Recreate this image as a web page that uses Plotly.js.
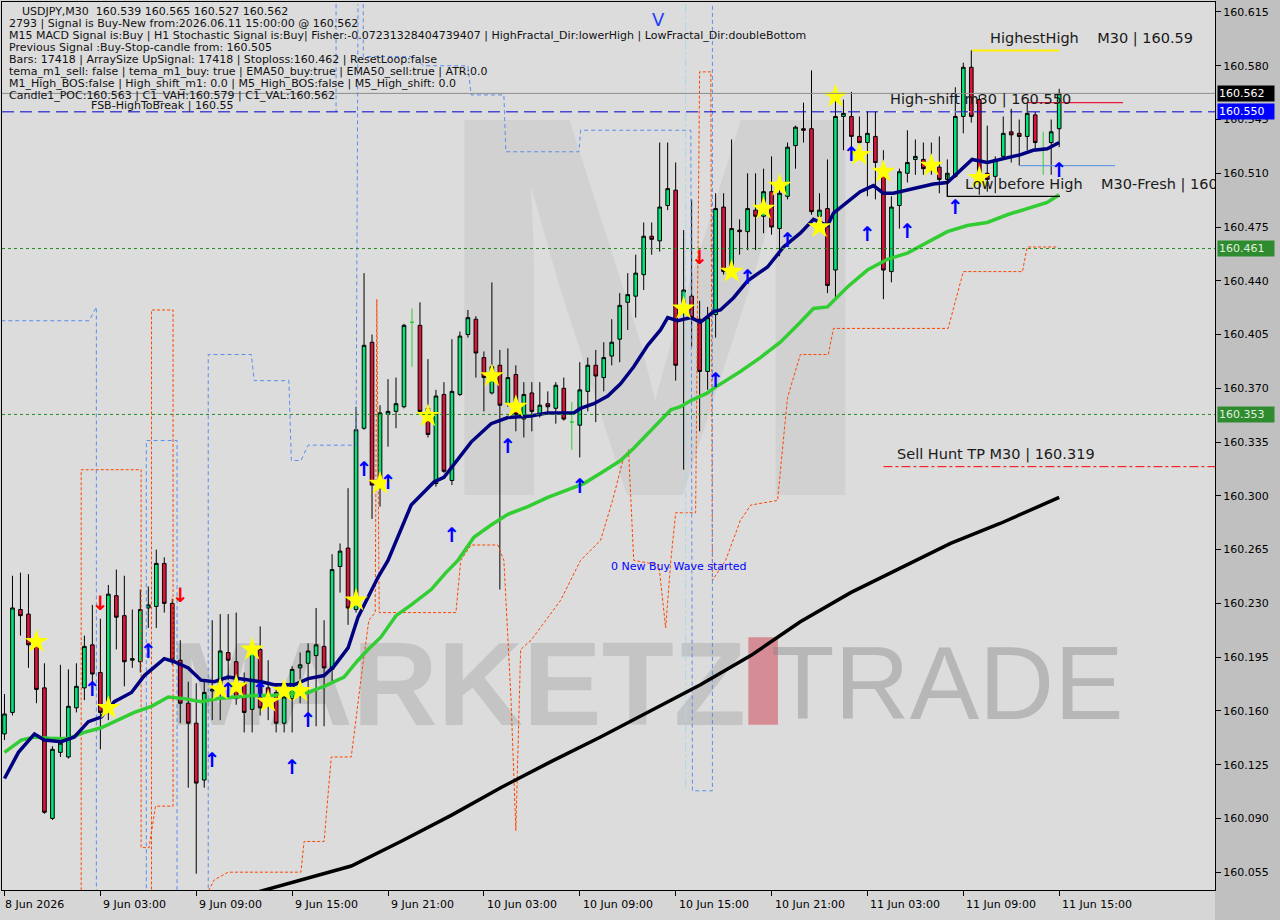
<!DOCTYPE html>
<html><head><meta charset="utf-8">
<script src="https://cdn.plot.ly/plotly-3.0.1.min.js"></script>
<style>html,body{margin:0;padding:0;background:#d6d6d6;}#chart{width:1280px;height:920px;}</style>
</head><body><div id="chart"></div>
<script>
// ---------- DATA ----------
const open = [160.145,160.159,160.226,160.223,160.203,160.175,160.090,160.133,160.130,160.162,160.175,160.203,160.185,160.163,160.235,160.222,160.193,160.192,160.227,160.228,
160.256,160.230,160.193,160.165,160.152,160.115,160.173,160.174,160.198,160.192,160.178,160.161,160.200,160.175,160.172,160.152,160.168,160.188,160.191,160.196,
160.202,160.187,160.254,160.266,160.226,160.344,160.400,160.307,160.353,160.355,160.358,160.413,160.411,160.357,160.308,160.366,160.310,160.366,160.405,160.415,
160.390,160.367,160.385,160.360,160.379,160.350,160.367,160.353,160.360,160.357,160.370,160.348,160.346,160.368,160.385,160.377,160.391,160.402,160.426,160.430,
160.444,160.469,160.466,160.489,160.499,160.421,160.430,160.415,160.381,160.418,160.488,160.448,160.473,160.472,160.486,160.482,160.498,160.474,160.495,160.528,
160.539,160.539,160.482,160.487,160.447,160.547,160.547,160.534,160.530,160.534,160.514,160.446,160.489,160.510,160.519,160.519,160.515,160.514,160.506,160.508,
160.547,160.579,160.558,160.510,160.508,160.521,160.537,160.536,160.534,160.548,160.526,160.530,160.539];
const high = [160.171,160.248,160.250,160.249,160.209,160.191,160.137,160.190,160.187,160.191,160.209,160.229,160.220,160.242,160.252,160.248,160.226,160.239,160.241,160.265,
160.260,160.233,160.206,160.179,160.178,160.180,160.219,160.223,160.223,160.224,160.185,160.205,160.215,160.193,160.178,160.178,160.189,160.198,160.204,160.227,
160.219,160.262,160.269,160.305,160.358,160.445,160.405,160.359,160.376,160.377,160.412,160.422,160.426,160.389,160.369,160.374,160.402,160.407,160.421,160.417,
160.394,160.439,160.395,160.396,160.385,160.374,160.374,160.374,160.368,160.374,160.377,160.361,160.387,160.390,160.395,160.400,160.415,160.432,160.445,160.457,
160.478,160.478,160.530,160.530,160.517,160.473,160.493,160.427,160.423,160.497,160.497,160.532,160.480,160.510,160.510,160.513,160.521,160.509,160.530,160.541,
160.556,160.577,160.497,160.519,160.564,160.558,160.563,160.547,160.550,160.550,160.525,160.495,160.513,160.538,160.532,160.530,160.530,160.534,160.519,160.566,
160.582,160.590,160.561,160.541,160.521,160.547,160.552,160.545,160.556,160.550,160.537,160.545,160.565];
const low = [160.141,160.157,160.209,160.188,160.165,160.093,160.089,160.130,160.129,160.159,160.167,160.172,160.135,160.154,160.200,160.176,160.188,160.185,160.214,160.214,
160.224,160.190,160.152,160.110,160.054,160.110,160.154,160.154,160.180,160.164,160.146,160.146,160.157,160.154,160.146,160.146,160.146,160.165,160.150,160.150,
160.150,160.179,160.237,160.216,160.224,160.343,160.285,160.293,160.332,160.344,160.357,160.384,160.354,160.338,160.306,160.315,160.307,160.365,160.403,160.377,
160.355,160.366,160.239,160.358,160.342,160.338,160.342,160.351,160.354,160.347,160.349,160.330,160.325,160.355,160.348,160.368,160.385,160.387,160.408,160.416,
160.434,160.457,160.459,160.486,160.375,160.317,160.397,160.342,160.369,160.403,160.444,160.444,160.457,160.460,160.460,160.471,160.470,160.456,160.493,160.513,
160.530,160.483,160.472,160.432,160.429,160.525,160.519,160.519,160.495,160.493,160.428,160.439,160.474,160.504,160.509,160.509,160.509,160.497,160.495,160.507,
160.536,160.543,160.496,160.498,160.497,160.519,160.517,160.515,160.525,160.525,160.509,160.509,160.527];
const close = [160.158,160.227,160.222,160.203,160.174,160.094,160.135,160.139,160.163,160.176,160.202,160.184,160.159,160.236,160.221,160.192,160.194,160.226,160.229,160.256,
160.230,160.193,160.165,160.152,160.113,160.172,160.174,160.199,160.193,160.168,160.159,160.202,160.162,160.167,160.152,160.169,160.187,160.190,160.199,160.203,
160.188,160.252,160.264,160.227,160.343,160.398,160.307,160.354,160.355,160.360,160.411,160.413,160.355,160.340,160.365,160.316,160.368,160.404,160.416,160.393,
160.377,160.384,160.359,160.377,160.353,160.366,160.355,160.359,160.358,160.372,160.350,160.348,160.369,160.385,160.378,160.390,160.400,160.424,160.431,160.445,
160.469,160.467,160.488,160.500,160.385,160.434,160.416,160.381,160.416,160.487,160.446,160.474,160.472,160.487,160.482,160.498,160.475,160.497,160.527,160.540,
160.538,160.485,160.486,160.437,160.547,160.549,160.534,160.530,160.536,160.517,160.447,160.488,160.511,160.517,160.521,160.513,160.518,160.506,160.510,160.547,
160.579,160.547,160.508,160.506,160.519,160.536,160.535,160.534,160.549,160.530,160.526,160.537,160.562];

const timeTickIdx = [0,12,24,36,48,60,72,84,96,108,120,132];
const timeTickText = ['8 Jun 2026','9 Jun 03:00','9 Jun 09:00','9 Jun 15:00','9 Jun 21:00','10 Jun 03:00','10 Jun 09:00','10 Jun 15:00','10 Jun 21:00','11 Jun 03:00','11 Jun 09:00','11 Jun 15:00'];
const priceTicks = [160.615,160.580,160.545,160.510,160.475,160.440,160.405,160.370,160.335,160.300,160.265,160.230,160.195,160.160,160.125,160.090,160.055];

// fast EMA (navy)
const navyX = [0,1.75,3.75,5,7.1,8.75,10.5,12.1,13.75,15.9,17.5,20,21.25,23,24.6,26.25,28,29.6,32.1,33.75,36.25,38,40,41.25,43,44.25,45.5,46.75,48,50.9,53.75,55,58.4,60.9,63,65.9,68,71.25,72.1,73.75,75.5,77.1,78.75,80.5,82.1,83,84.25,85.9,87.1,88.75,89.6,91.25,93,95.5,97.5,99.6,101.25,103,103.75,105.5,107.1,108.75,110,111.25,113.75,116.25,118,119.6,121.1,123,125.5,127.1,128.75,130.5,132];
const navyY = [160.116,160.133,160.145,160.141,160.140,160.143,160.153,160.156,160.166,160.172,160.183,160.194,160.192,160.188,160.180,160.179,160.182,160.181,160.179,160.177,160.177,160.181,160.183,160.189,160.201,160.221,160.234,160.247,160.258,160.294,160.309,160.312,160.335,160.347,160.351,160.352,160.354,160.354,160.357,160.360,160.365,160.373,160.384,160.398,160.408,160.416,160.414,160.416,160.413,160.420,160.421,160.429,160.440,160.449,160.462,160.471,160.480,160.476,160.484,160.491,160.498,160.502,160.497,160.497,160.500,160.503,160.504,160.512,160.519,160.517,160.520,160.522,160.525,160.526,160.530];
// EMA50 (green)
const greenX = [0,2.1,3.75,5.9,8,10,12.1,14.25,16.25,18.4,20.5,22.5,24.6,26.75,28.75,31.25,33.4,35.5,38,40,42.5,44.25,45.5,47.1,49,50.9,53.4,55.25,56.75,58.75,60.9,63,65.5,68,70.5,72.5,75,77.1,78.75,80.5,82.1,83.4,84.6,85.9,88,88.75,92.1,94.6,97.1,99.6,101.25,103,105.5,108,110.5,113,115.5,118,120.5,123,125.5,128,130.5,132];
const greenY = [160.133,160.141,160.143,160.142,160.142,160.146,160.149,160.154,160.159,160.163,160.169,160.168,160.166,160.168,160.169,160.170,160.170,160.171,160.172,160.176,160.182,160.193,160.200,160.208,160.222,160.229,160.239,160.250,160.258,160.273,160.281,160.288,160.293,160.299,160.304,160.308,160.316,160.323,160.331,160.340,160.349,160.356,160.358,160.362,160.367,160.370,160.381,160.390,160.400,160.413,160.422,160.423,160.436,160.447,160.454,160.458,160.465,160.472,160.476,160.478,160.483,160.487,160.491,160.496];
// slow MA (black)
const blackX = [30.25,37.1,43.4,49.6,55.9,62.1,68.4,74.6,80.9,87.1,93.4,99.6,105.9,112.1,118.4,124.6,132];
const blackY = [160.040,160.050,160.059,160.075,160.092,160.110,160.127,160.143,160.160,160.177,160.196,160.218,160.237,160.253,160.269,160.282,160.299];
// lower band steps (orange-red dashed), null = break
const orangeX = [9.6,9.6,17.1,17.1,18.1,18.9,21.1,21.1,18.4,18.4,null,
 25.25,26.25,28,37.1,37.5,40,40.9,43.4,44.6,45.6,46.4,46.6,46.9,56.5,57.1,58.4,61.75,62.5,63.4,64,64.6,65.9,67.75,69.6,72.1,74.6,76.1,77.4,78.1,78.75,81.9,82.75,83.4,84,86.5,87,88.4,88.6,90.25,92.1,93.4,96.75,98,99.6,103.1,103.75,118.1,120,127.4,128,131.9];
const orangeY = [160.040,160.317,160.317,160.071,160.071,160.098,160.098,160.421,160.421,160.040,null,
 160.040,160.050,160.055,160.055,160.075,160.075,160.130,160.130,160.180,160.219,160.224,160.428,160.224,160.224,160.258,160.268,160.268,160.258,160.167,160.082,160.200,160.206,160.219,160.232,160.258,160.271,160.297,160.323,160.330,160.258,160.255,160.214,160.258,160.289,160.289,160.576,160.576,160.245,160.258,160.284,160.294,160.297,160.364,160.392,160.392,160.409,160.409,160.446,160.446,160.462,160.462];
// upper band steps (blue dashed)
const blueX = [-0.4,10.6,11.5,11.5,null,17.75,17.75,21.6,21.6,null,25.5,25.5,30.9,31.25,35.6,35.9,37.1,38,44,44.25,null,41.5,41.5,null,
 44.9,44.9,51.25,52.4,58,58.4,62.5,62.75,71.9,72.1,85.9,86.1,87.75,88.6,88.6];
const blueY = [160.414,160.414,160.423,160.040,null,160.040,160.336,160.336,160.040,null,160.040,160.392,160.392,160.375,160.375,160.323,160.323,160.333,160.333,160.620,null,160.620,160.550,null,
 160.620,160.586,160.586,160.580,160.580,160.561,160.561,160.524,160.524,160.538,160.538,160.108,160.108,160.108,160.620];
const cyanX = [85.25,85.25];
const cyanY = [160.620,160.108];

// signal markers
const starX = [4,13,27,29,31,33,35,37,44,47,53,61,64,85,91,95,97,102,104,107,110,116,122];
const starY = [160.205,160.162,160.174,160.176,160.200,160.166,160.173,160.173,160.232,160.308,160.352,160.378,160.358,160.422,160.446,160.487,160.502,160.475,160.560,160.522,160.511,160.515,160.507];
const upX = [11,18,26,28,32,36,38,45,48,56,63,72,89,93,98,106,108,113,119,132];
const upY = [160.173,160.198,160.127,160.172,160.172,160.122,160.153,160.316,160.308,160.273,160.331,160.305,160.374,160.441,160.465,160.521,160.469,160.471,160.487,160.511];
const downX = [12,22,87];
const downY = [160.229,160.234,160.454];

// levels
const currentPrice = 160.562;
const highShift = 160.550;
const levelUpper = 160.461;
const levelLower = 160.353;
const sellHuntTP = 160.319;
const highestHigh = 160.590;
const lowBeforeHigh = 160.495;
const redShort = 160.556;
const blueShort = 160.515;

const infoLines = [
 'USDJPY,M30  160.539 160.565 160.527 160.562',
 '2793 | Signal is Buy-New from:2026.06.11 15:00:00 @ 160.562',
 'M15 MACD Signal is:Buy | H1 Stochastic Signal is:Buy| Fisher:-0.07231328404739407 | HighFractal_Dir:lowerHigh | LowFractal_Dir:doubleBottom',
 'Previous Signal :Buy-Stop-candle from: 160.505',
 'Bars: 17418 | ArraySize UpSignal: 17418 | Stoploss:160.462 | ResetLoop:false',
 'tema_m1_sell: false | tema_m1_buy: true | EMA50_buy:true | EMA50_sell:true | ATR:0.0',
 'M1_High_BOS:false | High_shift_m1: 0.0 | M5_High_BOS:false | M5_High_shift: 0.0',
 'Candle1_POC:160.563 | C1_VAH:160.579 | C1_VAL:160.562'
];
const fsbText = 'FSB-HighToBreak | 160.55';

// ---------- BUILD ----------
const N = open.length;
const barIdx = Array.from({length:N}, (_, i) => i);
const normal = {x:[],o:[],h:[],l:[],c:[]}, doji = {x:[],o:[],h:[],l:[],c:[]};
for (let i = 0; i < N; i++) {
  const t = (open[i] === close[i]) ? doji : normal;
  t.x.push(barIdx[i]); t.o.push(open[i]); t.h.push(high[i]); t.l.push(low[i]); t.c.push(close[i]);
}
const F = 'DejaVu Sans, Verdana, sans-serif';
const traces = [];
traces.push({type:'scatter', mode:'lines', x:orangeX, y:orangeY, connectgaps:false, line:{color:'#FF4500', width:1, dash:'3px,2px'}, hoverinfo:'skip'});
traces.push({type:'scatter', mode:'lines', x:blueX, y:blueY, connectgaps:false, line:{color:'#5B8DEF', width:1, dash:'4px,3px'}, hoverinfo:'skip'});
traces.push({type:'scatter', mode:'lines', x:cyanX, y:cyanY, line:{color:'#A8D8E8', width:1, dash:'dashdot'}, hoverinfo:'skip'});
traces.push({type:'candlestick', x:normal.x, open:normal.o, high:normal.h, low:normal.l, close:normal.c,
  increasing:{line:{color:'#000000', width:1}, fillcolor:'#00E676'},
  decreasing:{line:{color:'#000000', width:1}, fillcolor:'#DC143C'}, whiskerwidth:0, hoverinfo:'skip'});
traces.push({type:'candlestick', x:doji.x, open:doji.o, high:doji.h, low:doji.l, close:doji.c,
  increasing:{line:{color:'#32CD32', width:1}, fillcolor:'#32CD32'},
  decreasing:{line:{color:'#32CD32', width:1}, fillcolor:'#32CD32'}, whiskerwidth:0, hoverinfo:'skip'});
traces.push({type:'scatter', mode:'lines', x:blackX, y:blackY, line:{color:'#000000', width:3.5}, hoverinfo:'skip'});
traces.push({type:'scatter', mode:'lines', x:greenX, y:greenY, line:{color:'#32CD32', width:3.5}, hoverinfo:'skip'});
traces.push({type:'scatter', mode:'lines', x:navyX, y:navyY, line:{color:'#000080', width:3.5}, hoverinfo:'skip'});
// short level segments
traces.push({type:'scatter', mode:'lines', x:[121.1,132], y:[highestHigh,highestHigh], line:{color:'#FFEE00', width:2}, hoverinfo:'skip'});
traces.push({type:'scatter', mode:'lines', x:[128,140], y:[redShort,redShort], line:{color:'#E8173C', width:1.3}, hoverinfo:'skip'});
traces.push({type:'scatter', mode:'lines', x:[127.1,139], y:[blueShort,blueShort], line:{color:'#6A9AE0', width:1.3}, hoverinfo:'skip'});
traces.push({type:'scatter', mode:'lines', x:[118,118,132.1], y:[160.509,lowBeforeHigh,lowBeforeHigh], line:{color:'#000000', width:1.2}, hoverinfo:'skip'});
traces.push({type:'scatter', mode:'lines', x:[110,122], y:[highShift,highShift], line:{color:'#FFFFFF', width:1, dash:'dot'}, hoverinfo:'skip'});
traces.push({type:'scatter', mode:'lines', x:[110,152], y:[sellHuntTP,sellHuntTP], line:{color:'#FF0000', width:1, dash:'dashdot'}, hoverinfo:'skip'});
// markers
traces.push({type:'scatter', mode:'markers', x:starX, y:starY, marker:{symbol:'star', size:18, color:'#FFFF00', line:{width:0}}, hoverinfo:'skip'});
traces.push({type:'scatter', mode:'text', x:upX, y:upY, text:upX.map(()=>'↑'), textposition:'middle center',
  textfont:{family:'DejaVu Sans', size:20, color:'#0000FF', weight:'bold'}, hoverinfo:'skip'});
traces.push({type:'scatter', mode:'text', x:downX, y:downY, text:downX.map(()=>'↓'), textposition:'middle center',
  textfont:{family:'DejaVu Sans', size:20, color:'#FF0000', weight:'bold'}, hoverinfo:'skip'});
// clipped labels
traces.push({type:'scatter', mode:'text', x:[120.2], y:[160.502], text:['Low before High    M30-Fresh | 160.495'], textposition:'middle right',
  textfont:{family:F, size:14.5, color:'#1a1a1a'}, cliponaxis:true, hoverinfo:'skip'});

const annotations = [];
infoLines.forEach((t, k) => {
  annotations.push({xref:'paper', yref:'paper', x:0, y:1, xanchor:'left', yanchor:'middle', showarrow:false,
    xshift: (k === 0 ? 18 : 5), yshift: -(9 + 12*k), text:t, font:{family:F, size:11, color:'#111'}});
});
annotations.push({xref:'paper', yref:'paper', x:0, y:1, xanchor:'left', yanchor:'middle', showarrow:false,
  xshift:87, yshift:-103, text:fsbText, font:{family:F, size:11, color:'#111'}});
timeTickIdx.forEach((v, k) => {
  annotations.push({xref:'x', yref:'paper', x:v, y:0, xanchor:'left', yanchor:'top', yshift:-6, xshift:(k === 0 ? -1 : 1), showarrow:false,
    text:timeTickText[k], font:{family:F, size:11, color:'#000'}});
});
const boxes = [[currentPrice,'#000000','#FFFFFF'],[highShift,'#0000FF','#FFFFFF'],[levelUpper,'#2E8B2E','#E0F0E0'],[levelLower,'#2E8B2E','#E0F0E0']];
boxes.forEach(b => {
  annotations.push({xref:'paper', yref:'y', x:1, y:b[0], xanchor:'left', yanchor:'middle', xshift:2, showarrow:false,
    text:b[0].toFixed(3), bgcolor:b[1], font:{family:F, size:11, color:b[2]}, width:54, height:13, borderpad:1, align:'left'});
});
const txtFont = {family:F, size:14.5, color:'#1a1a1a'};
annotations.push({xref:'x', yref:'y', x:123.1, y:160.598, xanchor:'left', yanchor:'middle', showarrow:false, text:'HighestHigh    M30 | 160.59', font:txtFont});
annotations.push({xref:'x', yref:'y', x:110.6, y:160.558, xanchor:'left', yanchor:'middle', showarrow:false, text:'High-shift m30 | 160.550', font:txtFont});
annotations.push({xref:'x', yref:'y', x:111.5, y:160.327, xanchor:'left', yanchor:'middle', showarrow:false, text:'Sell Hunt TP M30 | 160.319', font:txtFont});
annotations.push({xref:'x', yref:'y', x:75.6, y:160.254, xanchor:'left', yanchor:'middle', showarrow:false, text:'0 New Buy Wave started', font:{family:F, size:11, color:'#0000FF'}});
annotations.push({xref:'x', yref:'y', x:81.8, y:160.610, xanchor:'center', yanchor:'middle', showarrow:false, text:'V', font:{family:F, size:18, color:'#1E3CFF'}});

const shapes = [
  {type:'rect', xref:'paper', yref:'paper', x0:1, x1:1.07, y0:-0.05, y1:1.01, fillcolor:'#C0C0C0', line:{width:0}, layer:'below'},
  // watermark
  {type:'rect', xref:'x', yref:'y', x0:54.4, x1:108.4, y0:160.330, y1:160.585, line:{width:0}, fillcolor:'rgba(0,0,0,0)', layer:'below',
    label:{text:'<b>M</b>', textposition:'middle center', font:{family:'Liberation Sans, Arial, sans-serif', size:545, color:'rgba(175,175,175,0.24)'}}},
  {type:'rect', xref:'x', yref:'y', x0:21.3, x1:92.1, y0:160.156, y1:160.213, line:{width:0}, fillcolor:'rgba(0,0,0,0)', layer:'below',
    label:{text:'<b>MARKETZ</b>', textposition:'middle center', font:{family:'Liberation Sans, Arial, sans-serif', size:118, color:'rgba(150,150,150,0.33)'}}},
  {type:'rect', xref:'x', yref:'y', x0:93.1, x1:96.8, y0:160.151, y1:160.208, line:{width:0}, fillcolor:'rgba(205,60,75,0.5)', layer:'below'},
  {type:'rect', xref:'x', yref:'y', x0:98.3, x1:137.7, y0:160.156, y1:160.213, line:{width:0}, fillcolor:'rgba(0,0,0,0)', layer:'below',
    label:{text:'TRADE', textposition:'middle center', font:{family:'Liberation Sans Narrow, Liberation Sans, Arial, sans-serif', size:104, color:'rgba(130,130,130,0.42)'}}},
  // full-width levels
  {type:'line', xref:'paper', yref:'y', x0:0, x1:1, y0:currentPrice, y1:currentPrice, line:{color:'#8C8C8C', width:1}},
  {type:'line', xref:'paper', yref:'y', x0:0, x1:1, y0:highShift, y1:highShift, line:{color:'#0000CD', width:1, dash:'12px,6px'}},
  {type:'line', xref:'paper', yref:'y', x0:0, x1:1, y0:levelUpper, y1:levelUpper, line:{color:'#1E8C1E', width:1, dash:'3px,3px'}},
  {type:'line', xref:'paper', yref:'y', x0:0, x1:1, y0:levelLower, y1:levelLower, line:{color:'#1E8C1E', width:1, dash:'3px,3px'}}
];

const layout = {
  width:1280, height:920,
  margin:{l:2, r:65, t:2, b:30},
  paper_bgcolor:'#D6D6D6', plot_bgcolor:'#DCDCDC',
  showlegend:false, boxgap:0.35,
  xaxis:{range:[-0.31,151.5], autorange:false, showgrid:false, zeroline:false, showline:true, mirror:true, linecolor:'#000', linewidth:1,
    tickvals:timeTickIdx, ticks:'outside', ticklen:5, tickcolor:'#000', showticklabels:false, rangeslider:{visible:false}, fixedrange:true},
  yaxis:{range:[160.0434,160.6215], autorange:false, side:'right', showgrid:false, zeroline:false, showline:true, mirror:true, linecolor:'#000', linewidth:1,
    tickvals:priceTicks, ticktext:priceTicks.map(v=>v.toFixed(3)), ticks:'outside', ticklen:5, tickcolor:'#000',
    tickfont:{family:F, size:11, color:'#000'}, fixedrange:true},
  annotations:annotations, shapes:shapes
};
Plotly.newPlot('chart', traces, layout, {staticPlot:true, displayModeBar:false});
</script></body></html>
